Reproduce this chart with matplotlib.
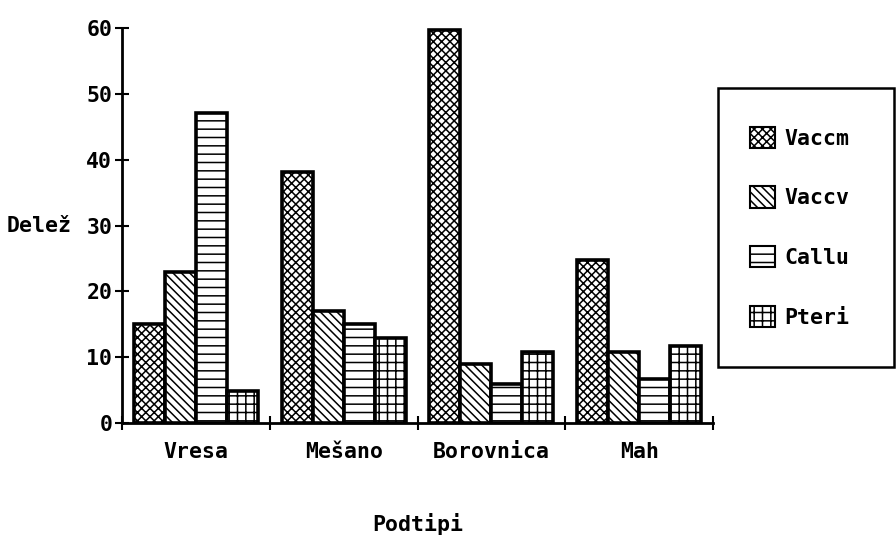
import matplotlib
matplotlib.use("Agg")
import matplotlib.pyplot as plt
import numpy as np
from matplotlib.patches import Rectangle, Patch

categories = ["Vresa", "Mešano", "Borovnica", "Mah"]
series_names = ["Vaccm", "Vaccv", "Callu", "Pteri"]
vaccm = [15.0, 38.1, 59.7, 24.8]
vaccv = [23.0, 17.0, 9.0, 10.8]
callu = [47.1, 15.0, 5.9, 6.7]
pteri = [4.9, 12.9, 10.8, 11.7]
yticks = [0, 10, 20, 30, 40, 50, 60]
ytick_labels = ["0", "10", "20", "30", "40", "50", "60"]

hatches = ["xxxx", "\\\\\\\\", "--", "++"]
FONT = "DejaVu Sans Mono"
FS = 15.5

plt.rcParams["hatch.linewidth"] = 1.1
plt.rcParams["font.family"] = FONT

fig = plt.figure(figsize=(8.96, 5.45), dpi=100)
ax = fig.add_axes([122/896, 1-423/545, (713-122)/896, (423-28)/545])

values = [vaccm, vaccv, callu, pteri]
x = np.arange(len(categories)) + 0.5
w = 0.21
for i, (name, vals, h) in enumerate(zip(series_names, values, hatches)):
    ax.bar(x + (i - 1.5) * w, vals, width=w, facecolor="white", edgecolor="black",
           hatch=h, linewidth=2.6, label=name, zorder=3)

ax.set_xlim(0, 4)
ax.set_ylim(0, 60)
for s in ["top", "right"]:
    ax.spines[s].set_visible(False)
for s in ["left", "bottom"]:
    ax.spines[s].set_linewidth(2)

ax.set_yticks(yticks)
ax.set_yticklabels(ytick_labels, fontsize=FS, fontweight="bold")
ax.tick_params(axis="y", direction="inout", length=10, width=1.5, pad=2)

ax.set_xticks([0, 1, 2, 3, 4])
ax.set_xticklabels([])
ax.tick_params(axis="x", which="major", direction="inout", length=10, width=1.5)
ax.set_xticks(x, minor=True)
ax.set_xticklabels(categories, minor=True, fontsize=FS, fontweight="bold")
ax.tick_params(axis="x", which="minor", length=0, pad=14)

ax.set_ylabel("Delež", rotation=0, fontsize=FS, fontweight="bold", va="center")
ax.yaxis.set_label_coords(-0.14, 0.5)
ax.set_xlabel("Podtipi", fontsize=FS, fontweight="bold")
ax.xaxis.set_label_coords(0.5, -0.228)

# legend frame
fig.patches.append(Rectangle((718/896, 1-367/545), (894-718)/896, (367-88)/545,
                             transform=fig.transFigure, fill=False, edgecolor="black",
                             linewidth=1.8))
handles = [Patch(facecolor="white", edgecolor="black", hatch=h, linewidth=1.5)
           for h in hatches]
leg = fig.legend(handles, series_names, loc="upper left",
                 bbox_to_anchor=(739/896, 1-116/545), frameon=False,
                 prop={"family": FONT, "size": FS, "weight": "bold"},
                 handlelength=1.15, handleheight=1.15, handletextpad=0.45,
                 labelspacing=1.75, borderpad=0)

fig.savefig("out.png", dpi=100)
